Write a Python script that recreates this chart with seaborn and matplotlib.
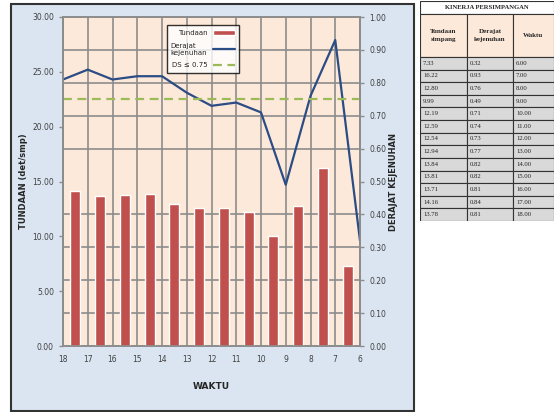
import numpy as np
import pandas as pd
import matplotlib
matplotlib.use("Agg")
import matplotlib.pyplot as plt
from matplotlib.patches import Rectangle
from matplotlib.ticker import FormatStrFormatter
import seaborn as sns

jam = [6, 7, 8, 9, 10, 11, 12, 13, 14, 15, 16, 17, 18]
derajat = [0.32, 0.93, 0.76, 0.49, 0.71, 0.74, 0.73, 0.77, 0.82, 0.82, 0.81, 0.84, 0.81]
tundaan = [7.33, 16.22, 12.80, 9.99, 12.19, 12.59, 12.54, 12.94, 13.84, 13.81, 13.71, 14.16, 13.78]
batas_ds = 0.75

tabel_judul = "KINERJA PERSIMPANGAN"
tabel_kolom = ["Tundaan\nsimpang", "Derajat\nkejenuhan", "Waktu"]

df = pd.DataFrame({"jam": jam, "ds": derajat, "tundaan": tundaan})
# batang Excel tergeser setengah kategori terhadap garis
df["jam_bar"] = df["jam"] + 0.5

c_bar = "#c0504d"
c_line = "#2b4c84"
c_ds = "#9bbb59"
c_grid = "#8c8c8c"
c_plot = "#fde9d9"
c_panel = "#dbe5f1"

sns.set_style("white")
plt.rcParams["font.family"] = ["DejaVu Sans"]

W, H = 555, 412
fig = plt.figure(figsize=(W / 100, H / 100), dpi=100)

# panel latar grafik
fig.add_artist(Rectangle((11 / W, 1 - 411 / H), 403 / W, 407 / H, transform=fig.transFigure,
                         facecolor=c_panel, edgecolor="#333333", lw=1.5, zorder=0))

ax = fig.add_axes([63 / W, 1 - 346 / H, 297 / W, 329 / H])
ax.set_facecolor(c_plot)
ax2 = ax.twinx()

sns.barplot(data=df, x="jam_bar", y="tundaan", native_scale=True, width=0.4,
            color=c_bar, saturation=1, ax=ax, zorder=3, label="Tundaan")
sns.lineplot(data=df, x="jam", y="ds", ax=ax2, color=c_line, lw=1.6, label="Derajat\nkejenuhan")
ax2.axhline(batas_ds, color=c_ds, lw=1.6, ls=(0, (4, 2.5)), label="DS \u2264 0.75")

ax.set_xlim(18, 6)
ax.set_ylim(0, 30)
ax2.set_ylim(0, 1)
ax.set_xticks(jam)
ax.xaxis.set_major_formatter(FormatStrFormatter("%d"))
ax.set_yticks(np.arange(0, 31, 5))
ax.yaxis.set_major_formatter(FormatStrFormatter("%.2f"))
ax2.set_yticks(np.arange(0, 1.01, 0.1))
ax2.yaxis.set_major_formatter(FormatStrFormatter("%.2f"))

# grid di bawah batang
ax.set_yticks(np.arange(0, 31, 3), minor=True)
ax.set_axisbelow(True)
ax.grid(True, which="major", axis="x", color=c_grid, lw=1.2)
ax.grid(True, which="minor", axis="y", color=c_grid, lw=1.2)
ax.tick_params(which="minor", length=0)
ax2.grid(False)

for a in (ax, ax2):
    for s in a.spines.values():
        s.set_color(c_grid)
        s.set_linewidth(1.2)
    a.tick_params(which="major", labelsize=5.5, labelcolor="#404040", color=c_grid, length=3, width=1)

ax.set_xlabel("WAKTU", fontsize=6.5, fontweight="bold", labelpad=13)
ax.set_ylabel("TUNDAAN (det/smp)", fontsize=6, fontweight="bold", labelpad=3)
ax2.set_ylabel("DERAJAT KEJENUHAN", fontsize=6, fontweight="bold", rotation=90, labelpad=2)

h1, l1 = ax.get_legend_handles_labels()
h2, l2 = ax2.get_legend_handles_labels()
if ax.get_legend():
    ax.get_legend().remove()
leg = ax2.legend(h1 + h2, l1 + l2, loc="upper left", bbox_to_anchor=(0.337, 0.985),
                 fontsize=5, frameon=True, fancybox=False, edgecolor="black",
                 markerfirst=False, handlelength=3.2, labelspacing=1.0, borderpad=0.6)
leg.get_frame().set_linewidth(1.0)
leg.set_zorder(10)

# --- tabel kinerja ---
axt = fig.add_axes([420 / W, 1 - 221 / H, 134 / W, 220 / H])
axt.set_xlim(0, 134)
axt.set_ylim(220, 0)
axt.axis("off")
kol = [0, 47, 93, 134]
serif = ["Liberation Serif", "DejaVu Serif"]

axt.add_patch(Rectangle((0, 0), 134, 13, facecolor="white", edgecolor="#333333", lw=0.8))
axt.text(67, 6.8, tabel_judul, ha="center", va="center", fontsize=4.8, fontweight="bold", family=serif)
for j in range(3):
    axt.add_patch(Rectangle((kol[j], 13), kol[j + 1] - kol[j], 43, facecolor=c_plot,
                            edgecolor="#333333", lw=0.8))
    axt.text((kol[j] + kol[j + 1]) / 2, 34.5, tabel_kolom[j], ha="center", va="center",
             fontsize=5, fontweight="bold", family=serif, linespacing=1.8)

rh = (220 - 56) / len(jam)
for i in range(len(jam)):
    y0 = 56 + i * rh
    nilai = [f"{tundaan[i]:.2f}", f"{derajat[i]:.2f}", f"{jam[i]:.2f}"]
    for j in range(3):
        axt.add_patch(Rectangle((kol[j], y0), kol[j + 1] - kol[j], rh, facecolor="#d9d9d9",
                                edgecolor="#333333", lw=0.8))
        axt.text(kol[j] + 3, y0 + rh / 2, nilai[j], ha="left", va="center",
                 fontsize=4.8, family=serif, color="#222222")

fig.savefig("out.png", dpi=100)
